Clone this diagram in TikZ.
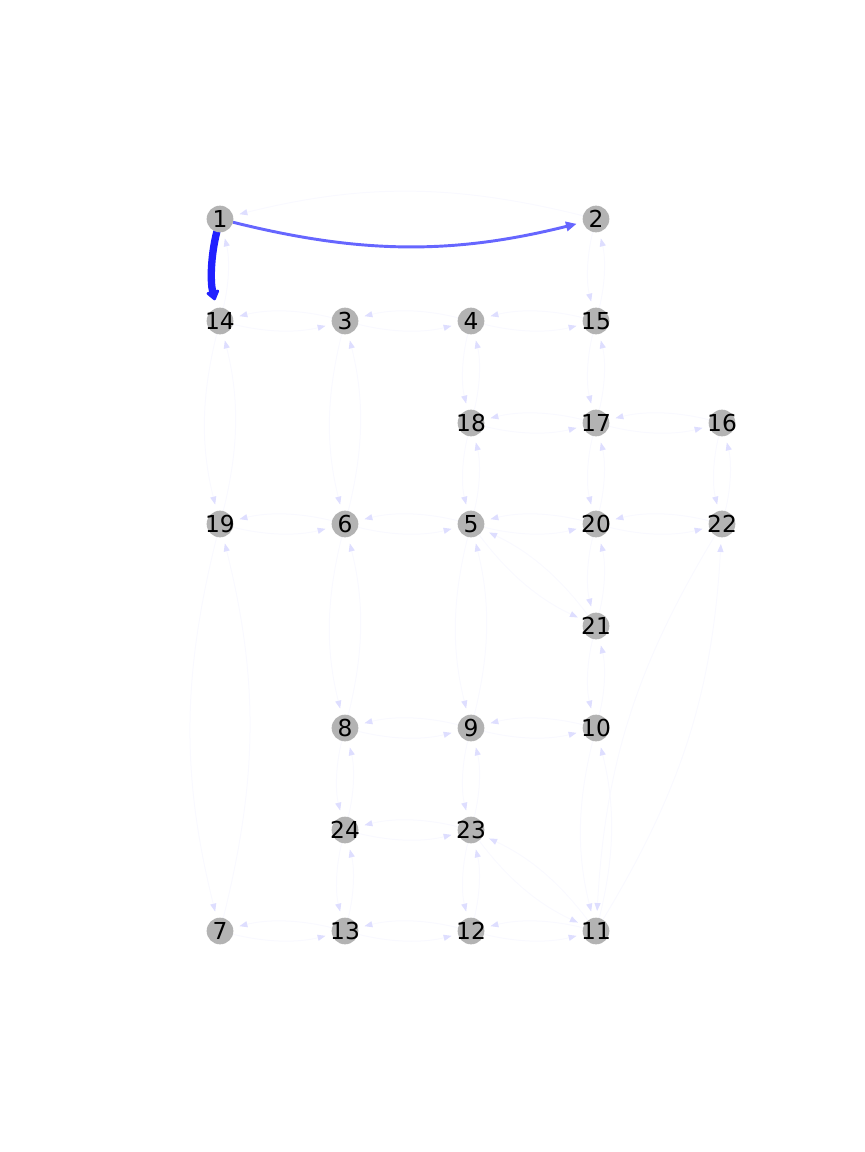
\documentclass[tikz,border=0pt]{standalone}
\usepackage{fontspec}
\setmainfont{DejaVu Sans}
\usetikzlibrary{arrows.meta}
\definecolor{nodegray}{RGB}{179,179,179}
\definecolor{faintline}{RGB}{249,249,255}
\definecolor{fainthead}{RGB}{222,222,255}
\definecolor{midblue}{RGB}{102,102,255}
\definecolor{deepblue}{RGB}{32,32,255}
\pgfdeclarelayer{edges}
\pgfsetlayers{edges,main}
\newcommand{\vlabel}[1]{\makebox[0pt]{#1}}
\begin{document}
\begin{tikzpicture}[x=0.75pt,y=-0.75pt,
  vtx/.style={circle,fill=nodegray,inner sep=0pt,minimum size=20pt,font=\fontsize{17.5}{20}\selectfont},
  flow/.style={draw=faintline,line width=0.75pt,-{Triangle[length=6pt,width=4.5pt,color=fainthead]},shorten >=15pt,shorten <=10pt},
  midflow/.style={draw=midblue,line width=2.2pt,-{Triangle[length=8pt,width=7pt,color=midblue]},shorten >=15pt,shorten <=10pt},
  bigflow/.style={draw=deepblue,line width=5.5pt,line cap=round,-{Triangle[length=8pt,width=11pt,round,color=deepblue]},shorten >=16pt,shorten <=10pt},
  bendarc/.style={bend right=14}]
\useasboundingbox (0,0) rectangle (864,1152);
\node[vtx] (n1) at (220,219) {\vlabel{1}};
\node[vtx] (n2) at (596,219) {\vlabel{2}};
\node[vtx] (n14) at (220,321) {\vlabel{14}};
\node[vtx] (n3) at (345,321) {\vlabel{3}};
\node[vtx] (n4) at (471,321) {\vlabel{4}};
\node[vtx] (n15) at (596,321) {\vlabel{15}};
\node[vtx] (n18) at (471,423) {\vlabel{18}};
\node[vtx] (n17) at (596,423) {\vlabel{17}};
\node[vtx] (n16) at (722,423) {\vlabel{16}};
\node[vtx] (n19) at (220,524) {\vlabel{19}};
\node[vtx] (n6) at (345,524) {\vlabel{6}};
\node[vtx] (n5) at (471,524) {\vlabel{5}};
\node[vtx] (n20) at (596,524) {\vlabel{20}};
\node[vtx] (n22) at (722,524) {\vlabel{22}};
\node[vtx] (n21) at (596,626) {\vlabel{21}};
\node[vtx] (n8) at (345,728) {\vlabel{8}};
\node[vtx] (n9) at (471,728) {\vlabel{9}};
\node[vtx] (n10) at (596,728) {\vlabel{10}};
\node[vtx] (n24) at (345,830) {\vlabel{24}};
\node[vtx] (n23) at (471,830) {\vlabel{23}};
\node[vtx] (n7) at (220,931) {\vlabel{7}};
\node[vtx] (n13) at (345,931) {\vlabel{13}};
\node[vtx] (n12) at (471,931) {\vlabel{12}};
\node[vtx] (n11) at (596,931) {\vlabel{11}};
\begin{pgfonlayer}{edges}
\foreach \a/\b in {2/15,14/3,3/4,4/15,14/19,3/6,4/18,15/17,18/17,17/16,18/5,17/20,16/22,19/6,6/5,5/20,20/22,19/7,6/8,5/9,5/21,20/21,21/10,22/11,8/9,9/10,8/24,9/23,10/11,24/23,23/11,24/13,23/12,7/13,13/12,12/11}{
  \draw[flow] (n\a.center) to[bendarc] (n\b.center);
  \draw[flow] (n\b.center) to[bendarc] (n\a.center);
}
\draw[flow] (n2.center) to[bendarc] (n1.center);
\draw[flow] (n14.center) to[bendarc] (n1.center);
\draw[midflow] (n1.center) to[bendarc] (n2.center);
\draw[bigflow] (n1.center) to[bendarc] (n14.center);
\end{pgfonlayer}
\end{tikzpicture}
\end{document}
